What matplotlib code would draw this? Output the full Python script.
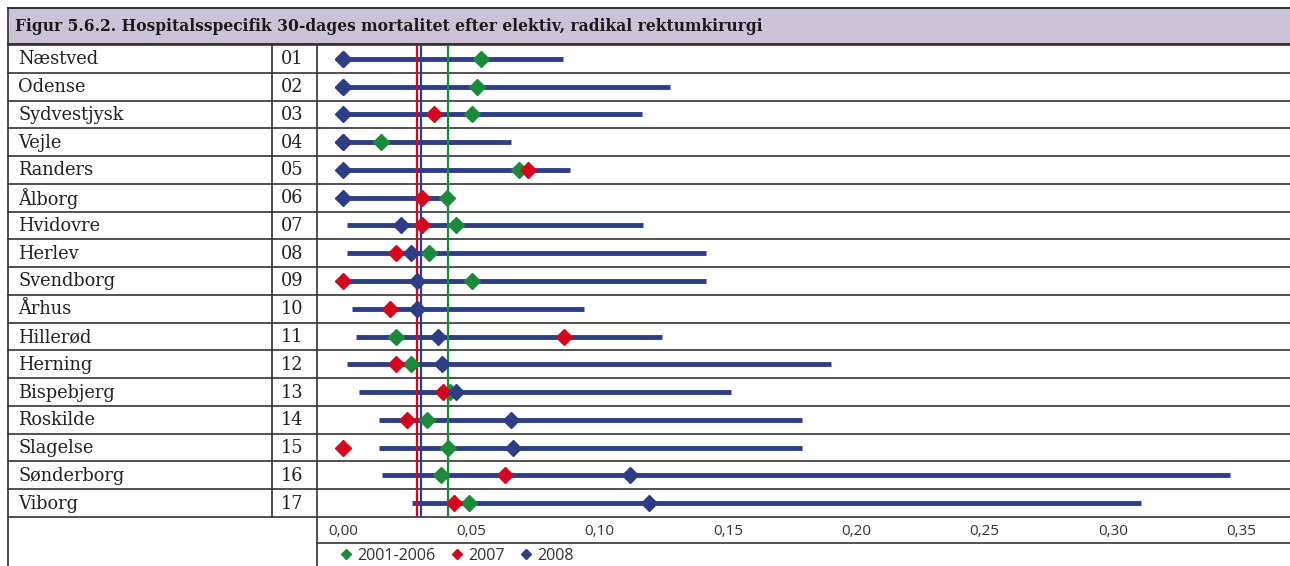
import matplotlib
matplotlib.use('Agg')
import matplotlib.pyplot as plt
from matplotlib.lines import Line2D
from matplotlib.patches import Rectangle
from matplotlib.ticker import FuncFormatter

# data
hospitals = ['Næstved', 'Odense', 'Sydvestjysk', 'Vejle', 'Randers', 'Ålborg',
             'Hvidovre', 'Herlev', 'Svendborg', 'Århus', 'Hillerød', 'Herning',
             'Bispebjerg', 'Roskilde', 'Slagelse', 'Sønderborg', 'Viborg']
codes = ['01', '02', '03', '04', '05', '06', '07', '08', '09', '10',
         '11', '12', '13', '14', '15', '16', '17']
ci_low = [0.0, 0.0, 0.0, 0.0, 0.0, 0.0, 0.0017, 0.0017, 0.0017, 0.0036,
          0.0052, 0.0017, 0.0064, 0.0141, 0.0141, 0.0153, 0.0270]
ci_high = [0.0856, 0.1272, 0.1164, 0.0653, 0.0884, 0.0400, 0.1170, 0.1414, 0.1414, 0.0940,
           0.1244, 0.1900, 0.1510, 0.1790, 0.1790, 0.3455, 0.3110]
rate_0106 = [0.0539, 0.0521, 0.0501, 0.0148, 0.0684, 0.0404, 0.0441, 0.0336, 0.0501, 0.0287,
             0.0206, 0.0265, 0.0415, 0.0329, 0.0410, 0.0382, 0.0492]
rate_2007 = [0.0, 0.0, 0.0353, 0.0, 0.0722, 0.0309, 0.0308, 0.0206, 0.0, 0.0183,
             0.0862, 0.0206, 0.0388, 0.0251, 0.0, 0.0631, 0.0432]
rate_2008 = [0.0, 0.0, 0.0, 0.0, 0.0, 0.0, 0.0227, 0.0265, 0.0287, 0.0287,
             0.0369, 0.0384, 0.0440, 0.0653, 0.0661, 0.1118, 0.1193]
ref_0106 = 0.0409
ref_2007 = 0.0290
ref_2008 = 0.0305
xticks = [0.0, 0.05, 0.10, 0.15, 0.20, 0.25, 0.30, 0.35]
periods = ['2001-2006', '2007', '2008']

title = 'Figur 5.6.2. Hospitalsspecifik 30-dages mortalitet efter elektiv, radikal rektumkirurgi'

GREEN = '#1b8a3a'
RED = '#d2061f'
BLUE = '#2d3d86'
GRID = '#333333'
SERIF = 'DejaVu Serif'
SANS = 'Open Sans'

W, H = 1290, 566
top, bottom = 45, 517
row_h = (bottom - top) / len(hospitals)

fig = plt.figure(figsize=(W / 100, H / 100), dpi=100)

# table skeleton in pixel coordinates
bg = fig.add_axes([0, 0, 1, 1])
bg.set_xlim(0, W)
bg.set_ylim(H, 0)
bg.axis('off')

bg.add_patch(Rectangle((8, 8), W - 8, 36, facecolor='#ccc4d6', edgecolor='none'))
bg.text(15, 26.5, title, fontsize=11.2, fontweight='bold', family=SERIF,
        va='center', ha='left', color='#1a1a1a')
bg.plot([8, W], [8, 8], color=GRID, lw=1.4)
bg.plot([8, W], [44, 44], color=GRID, lw=1.4)
for i in range(len(hospitals) + 1):
    y = top + i * row_h
    bg.plot([8, W], [y, y], color=GRID, lw=1.2)
bg.plot([8, 8], [8, H], color=GRID, lw=1.2)
bg.plot([272, 272], [top, bottom], color=GRID, lw=1.2)
bg.plot([317, 317], [top, H], color=GRID, lw=1.2)
bg.plot([317, W], [543, 543], color=GRID, lw=1.2)

for i, (name, code) in enumerate(zip(hospitals, codes)):
    yc = top + (i + 0.5) * row_h
    bg.text(18, yc + 0.5, name, fontsize=12.8, family=SERIF, va='center', ha='left', color='#222222')
    bg.text(281, yc + 0.5, code, fontsize=12.8, family=SERIF, va='center', ha='left', color='#222222')

# the plot part
ax = fig.add_axes([317 / W, (H - bottom) / H, (W - 317) / W, (bottom - top) / H])
ax.set_facecolor('none')
rows = list(range(1, len(hospitals) + 1))
ax.hlines(rows, ci_low, ci_high, color=BLUE, lw=3.5, zorder=2)
ax.axvline(ref_2007, color=RED, lw=1.6, zorder=3)
ax.axvline(ref_2008, color=BLUE, lw=1.6, zorder=3)
ax.axvline(ref_0106, color=GREEN, lw=1.6, zorder=3)
ms = 7.8
ax.plot(rate_0106, rows, 'D', color=GREEN, ms=ms, lw=0, zorder=4)
ax.plot(rate_2007, rows, 'D', color=RED, ms=ms, lw=0, zorder=5)
ax.plot(rate_2008, rows, 'D', color=BLUE, ms=ms + 0.3, lw=0, zorder=6)

ax.set_xlim((317 - 343) / 2567, (W - 343) / 2567)
ax.set_ylim(len(hospitals) + 0.5, 0.5)
ax.set_yticks([])
ax.set_xticks(xticks)
ax.xaxis.set_major_formatter(FuncFormatter(lambda v, p: f'{v:.2f}'.replace('.', ',')))
ax.tick_params(axis='x', length=0, pad=5, labelsize=11, labelcolor='#333333')
for lab in ax.get_xticklabels():
    lab.set_family(SANS)
for s in ax.spines.values():
    s.set_visible(False)

handles = [Line2D([], [], marker='D', ls='none', color=c, ms=5.5) for c in (GREEN, RED, BLUE)]
leg = fig.legend(handles, periods, loc='center left', bbox_to_anchor=(330 / W, (H - 556) / H),
                 ncol=3, frameon=False, handletextpad=0.22, columnspacing=0.8,
                 handlelength=1.0, borderpad=0, prop={'family': SANS, 'size': 11.6})
for t in leg.get_texts():
    t.set_color('#333333')

fig.savefig('out.png', dpi=100)
